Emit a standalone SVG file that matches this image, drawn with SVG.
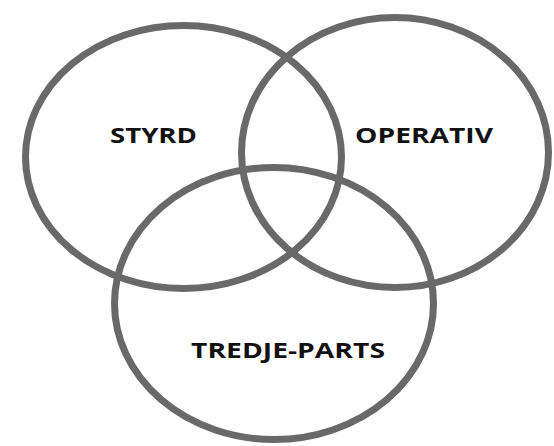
<svg xmlns="http://www.w3.org/2000/svg" width="554" height="446" viewBox="0 0 554 446">
<style>
.c{fill:none;stroke:#696969;stroke-width:7}
.t{font-family:"Open Sans","Liberation Sans",sans-serif;font-weight:bold;font-size:22px;fill:#111}
</style>
<rect width="554" height="446" fill="#fff"/>
<g id="styrd"><ellipse class="c" cx="183.5" cy="157" rx="158" ry="131.5"/><text class="t" x="153.5" y="142.5" text-anchor="middle" textLength="87" lengthAdjust="spacingAndGlyphs">STYRD</text></g>
<g id="operativ"><ellipse class="c" cx="395" cy="152.5" rx="153.5" ry="135"/><text class="t" x="424" y="142.5" text-anchor="middle" textLength="138" lengthAdjust="spacingAndGlyphs">OPERATIV</text></g>
<g id="tredje-parts"><ellipse class="c" cx="274" cy="303.5" rx="159.5" ry="136"/><text class="t" x="288" y="357.5" text-anchor="middle" textLength="194" lengthAdjust="spacingAndGlyphs">TREDJE-PARTS</text></g>
<g id="connectors"/>
</svg>
